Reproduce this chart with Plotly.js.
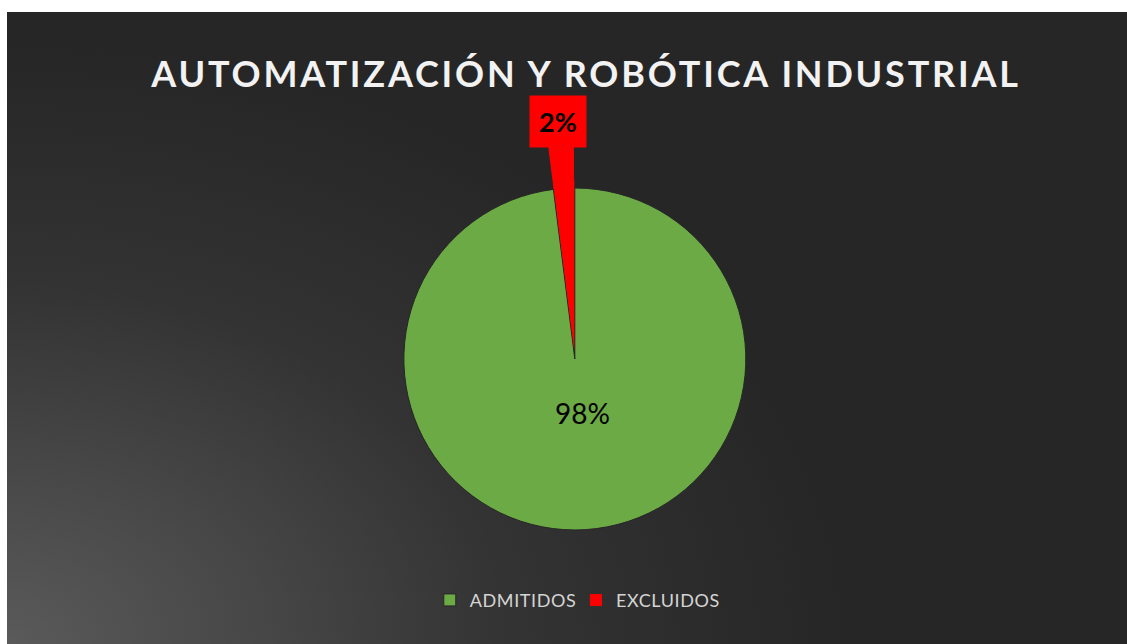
<!DOCTYPE html>
<html>
<head>
<meta charset="utf-8">
<script src="https://cdn.plot.ly/plotly-3.0.1.min.js"></script>
<style>
  html, body { margin: 0; padding: 0; background: #ffffff; }
  #bg { position: absolute; left: 7px; top: 12px; width: 1120px; height: 632px;
        background: radial-gradient(ellipse 75% 95% at 0% 100%, #5a5a5a 0%, #474747 30%, #333333 60%, #262626 100%); }
  #chart { position: absolute; left: 0; top: 0; width: 1127px; height: 644px; }
  #chart .gtitle { letter-spacing: 2.8px; }
  #chart .legendtext { letter-spacing: 0.6px; }
</style>
</head>
<body>
<div id="bg"></div>
<div id="chart"></div>
<script>
const categories = ["ADMITIDOS", "EXCLUIDOS"];
const values = [98, 2];
const colors = ["#6BAA45", "#FF0000"];
const chartTitle = "AUTOMATIZACIÓN Y ROBÓTICA INDUSTRIAL";

const total = values.reduce((a, b) => a + b, 0);
const pct = values.map(v => Math.round(v / total * 100) + "%");

// Larger pie behind: only the small slice is visible, forming the callout pointer
const pointer = {
  type: "pie",
  labels: categories,
  values: values,
  sort: false,
  direction: "clockwise",
  rotation: 0,
  pull: [0, 0.04],
  marker: { colors: ["rgba(0,0,0,0)", colors[1]], line: { width: 0 } },
  textinfo: "none",
  hoverinfo: "skip",
  showlegend: false,
  domain: { x: [0.316, 0.7035], y: [0.1034, 0.7817] }
};

const main = {
  type: "pie",
  labels: categories,
  values: values,
  sort: false,
  direction: "clockwise",
  rotation: 0,
  pull: [0, 0.05],
  marker: { colors: colors, line: { color: ["#262626", "rgba(0,0,0,0)"], width: 1 } },
  textinfo: "none",
  showlegend: true,
  domain: { x: [0.3505, 0.6696], y: [0.1638, 0.7213] }
};

const layout = {
  width: 1127,
  height: 644,
  margin: { l: 0, r: 0, t: 0, b: 0 },
  paper_bgcolor: "rgba(0,0,0,0)",
  plot_bgcolor: "rgba(0,0,0,0)",
  title: {
    text: "<b>" + chartTitle + "</b>",
    x: 0.52, xanchor: "center",
    y: 0.884, yanchor: "middle",
    font: { family: "Lato, 'Open Sans', sans-serif", size: 36, color: "#F2F2F2" }
  },
  showlegend: true,
  legend: {
    orientation: "h",
    x: 0.51, xanchor: "center",
    y: 0.068, yanchor: "middle",
    font: { family: "Lato, 'Open Sans', sans-serif", size: 18, color: "#D4D4D4" },
    itemwidth: 30,
    bgcolor: "rgba(0,0,0,0)"
  },
  annotations: [
    {
      xref: "paper", yref: "paper",
      x: 557.5 / 1127, y: 1 - 121.5 / 644,
      xanchor: "center", yanchor: "middle",
      text: "<b>" + pct[1] + "</b>", showarrow: false,
      bgcolor: colors[1], borderpad: 9,
      font: { family: "Lato, 'Open Sans', sans-serif", size: 27, color: "#000000" }
    },
    {
      xref: "paper", yref: "paper",
      x: 582.5 / 1127, y: 1 - 413 / 644,
      xanchor: "center", yanchor: "middle",
      text: pct[0], showarrow: false,
      font: { family: "Lato, 'Open Sans', sans-serif", size: 28, color: "#000000" }
    }
  ]
};

Plotly.newPlot("chart", [pointer, main], layout, { displayModeBar: false, staticPlot: true });
</script>
</body>
</html>
